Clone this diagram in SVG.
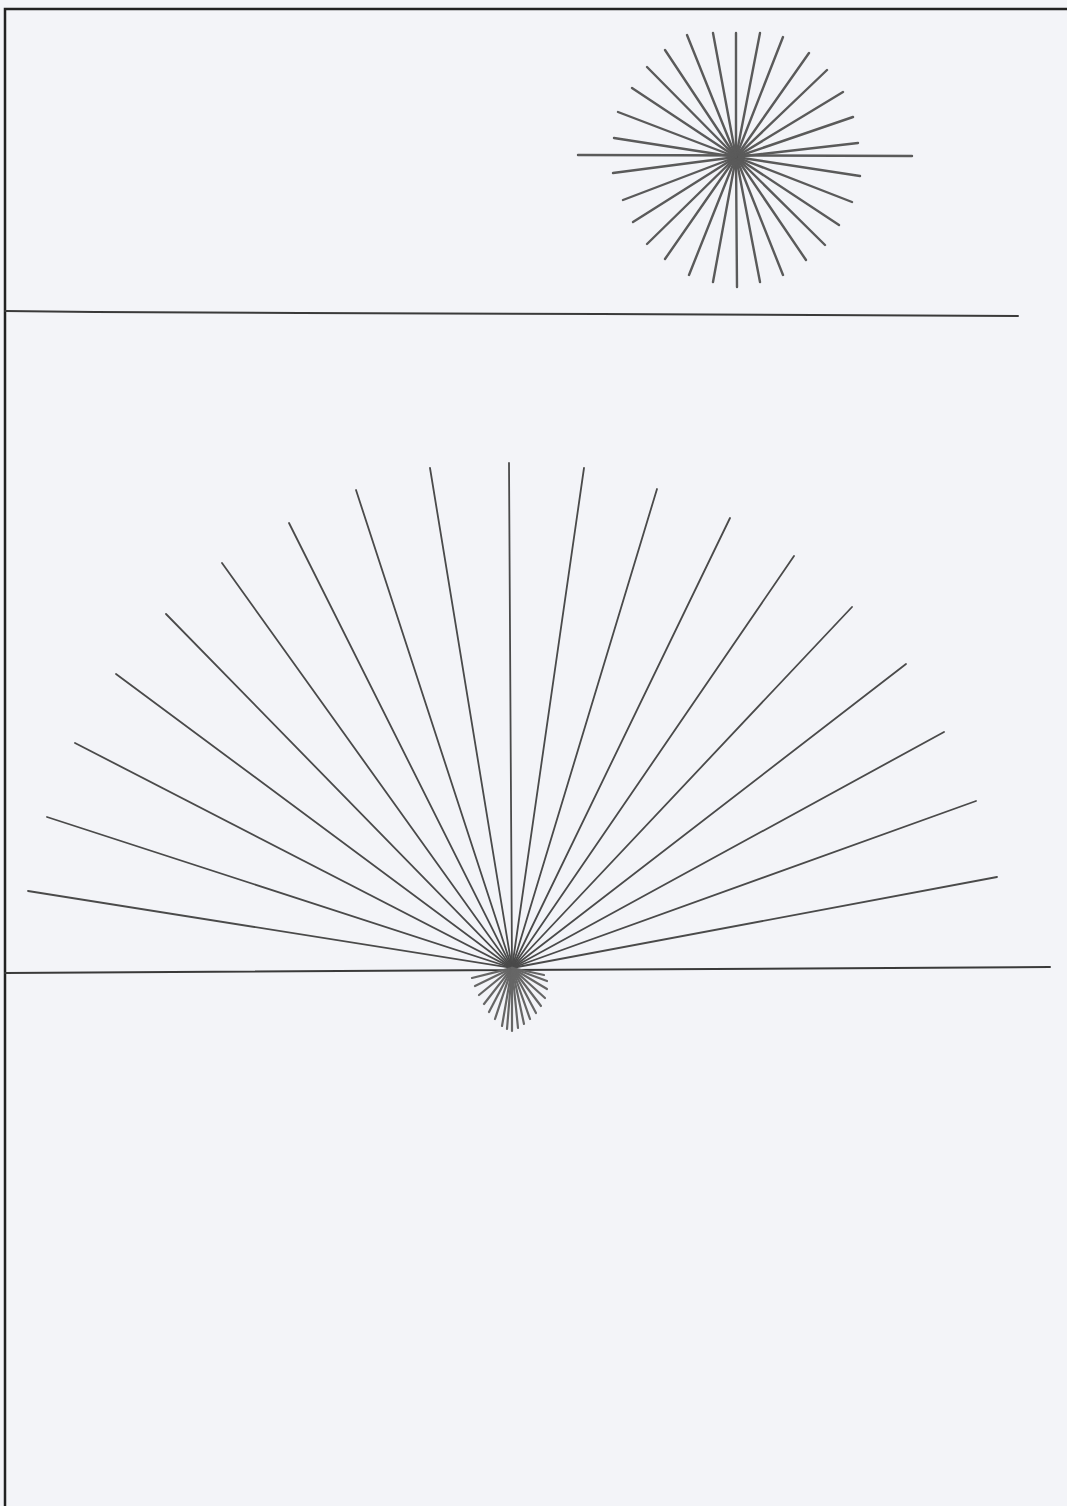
<svg xmlns="http://www.w3.org/2000/svg" width="1067" height="1506" viewBox="0 0 1067 1506">
<style>
.bg{fill:#f3f4f8}
.frame{stroke:#222;stroke-width:2.5;fill:none}
.horizon{stroke:#3a3a3a;stroke-width:2;fill:none;stroke-linecap:round}
.sun line{stroke:#5a5a5a;stroke-width:2.4;stroke-linecap:round}
.fan line{stroke:#4a4a4a;stroke-width:1.8;stroke-linecap:round}
.under line{stroke:#666;stroke-width:2.2;stroke-linecap:round}
</style>
<rect class="bg" x="0" y="0" width="1067" height="1506"/>
<path class="frame" d="M5,1506 V9 H1067"/>
<g id="horizon-top"><polyline class="horizon" points="5,311 95,312 300,313 600,314 1018,316"/></g>
<g id="horizon-bottom"><line class="horizon" x1="5" y1="973" x2="1050" y2="967"/></g>
<g id="sun-top" class="sun">
<line x1="578" y1="155" x2="912" y2="156"/>
<line x1="736" y1="157" x2="736" y2="33"/>
<line x1="736" y1="157" x2="760" y2="33"/>
<line x1="736" y1="157" x2="783" y2="37"/>
<line x1="736" y1="157" x2="809" y2="53"/>
<line x1="736" y1="157" x2="827" y2="70"/>
<line x1="736" y1="157" x2="843" y2="92"/>
<line x1="736" y1="157" x2="853" y2="117"/>
<line x1="736" y1="157" x2="858" y2="143"/>
<line x1="736" y1="157" x2="860" y2="176"/>
<line x1="736" y1="157" x2="852" y2="202"/>
<line x1="736" y1="157" x2="839" y2="225"/>
<line x1="736" y1="157" x2="825" y2="245"/>
<line x1="736" y1="157" x2="806" y2="260"/>
<line x1="736" y1="157" x2="783" y2="275"/>
<line x1="736" y1="157" x2="760" y2="282"/>
<line x1="736" y1="157" x2="737" y2="287"/>
<line x1="736" y1="157" x2="713" y2="282"/>
<line x1="736" y1="157" x2="689" y2="275"/>
<line x1="736" y1="157" x2="665" y2="259"/>
<line x1="736" y1="157" x2="647" y2="244"/>
<line x1="736" y1="157" x2="633" y2="222"/>
<line x1="736" y1="157" x2="623" y2="200"/>
<line x1="736" y1="157" x2="613" y2="173"/>
<line x1="736" y1="157" x2="614" y2="138"/>
<line x1="736" y1="157" x2="618" y2="112"/>
<line x1="736" y1="157" x2="632" y2="88"/>
<line x1="736" y1="157" x2="647" y2="67"/>
<line x1="736" y1="157" x2="665" y2="50"/>
<line x1="736" y1="157" x2="687" y2="35"/>
<line x1="736" y1="157" x2="713" y2="33"/>
</g>
<g id="sun-rising-rays" class="fan">
<line x1="512" y1="968" x2="28" y2="891"/>
<line x1="512" y1="968" x2="47" y2="817"/>
<line x1="512" y1="968" x2="75" y2="743"/>
<line x1="512" y1="968" x2="116" y2="674"/>
<line x1="512" y1="968" x2="166" y2="614"/>
<line x1="512" y1="968" x2="222" y2="563"/>
<line x1="512" y1="968" x2="289" y2="523"/>
<line x1="512" y1="968" x2="356" y2="490"/>
<line x1="512" y1="968" x2="430" y2="468"/>
<line x1="512" y1="968" x2="509" y2="463"/>
<line x1="512" y1="968" x2="584" y2="468"/>
<line x1="512" y1="968" x2="657" y2="489"/>
<line x1="512" y1="968" x2="730" y2="518"/>
<line x1="512" y1="968" x2="794" y2="556"/>
<line x1="512" y1="968" x2="852" y2="607"/>
<line x1="512" y1="968" x2="906" y2="664"/>
<line x1="512" y1="968" x2="944" y2="732"/>
<line x1="512" y1="968" x2="976" y2="801"/>
<line x1="512" y1="968" x2="997" y2="877"/>
</g>
<g id="sun-below-horizon" class="under">
<line x1="512" y1="968" x2="472" y2="978"/>
<line x1="512" y1="968" x2="475" y2="986"/>
<line x1="512" y1="968" x2="479" y2="995"/>
<line x1="512" y1="968" x2="484" y2="1004"/>
<line x1="512" y1="968" x2="489" y2="1012"/>
<line x1="512" y1="968" x2="495" y2="1019"/>
<line x1="512" y1="968" x2="502" y2="1026"/>
<line x1="512" y1="968" x2="507" y2="1029"/>
<line x1="512" y1="968" x2="512" y2="1031"/>
<line x1="512" y1="968" x2="518" y2="1028"/>
<line x1="512" y1="968" x2="524" y2="1024"/>
<line x1="512" y1="968" x2="530" y2="1019"/>
<line x1="512" y1="968" x2="536" y2="1013"/>
<line x1="512" y1="968" x2="541" y2="1006"/>
<line x1="512" y1="968" x2="545" y2="998"/>
<line x1="512" y1="968" x2="547" y2="989"/>
<line x1="512" y1="968" x2="547" y2="981"/>
<line x1="512" y1="968" x2="544" y2="975"/>
</g>
</svg>
